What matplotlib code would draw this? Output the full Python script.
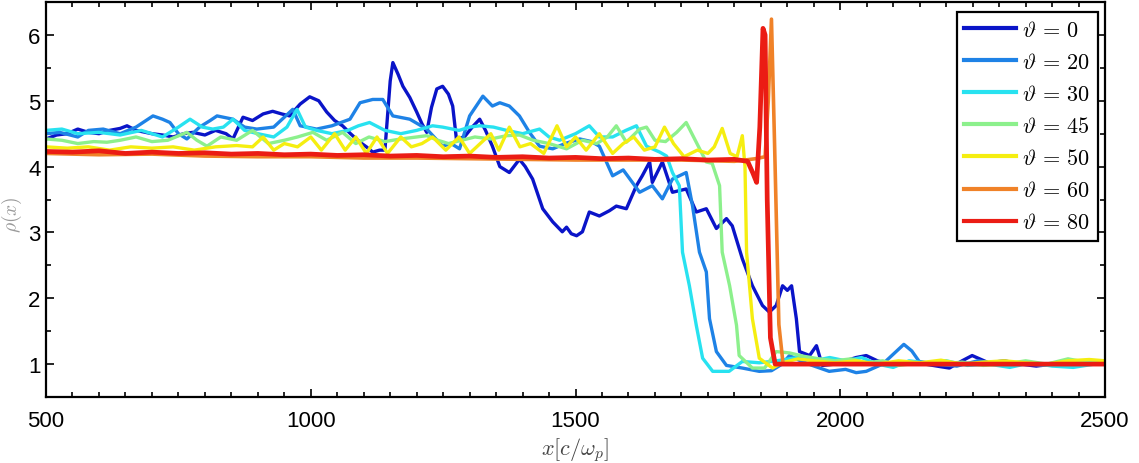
import numpy as np
import matplotlib
matplotlib.use('Agg')
from matplotlib import pyplot as plt
from matplotlib.ticker import MultipleLocator

plt.rcParams['font.family'] = ['Liberation Sans', 'DejaVu Sans']
plt.rcParams['mathtext.fontset'] = 'cm'

angles = [0, 20, 30, 45, 50, 60, 80]
colors = ['#0a14c8', '#1e82e6', '#28e2f0', '#8cf08c', '#f5ee10', '#f08228', '#eb1c14']

# density profiles, one per angle
x0 = [500, 520, 540, 560, 580, 600, 620, 640, 653, 670, 700, 720, 740, 760, 777, 800, 820, 840, 853,
      872, 890, 910, 928, 945, 960, 980, 998, 1015, 1030, 1045, 1060, 1075, 1093, 1105, 1117, 1130,
      1140, 1150, 1155, 1165, 1174, 1187, 1200, 1210, 1219, 1228, 1238, 1249, 1260, 1268, 1275, 1290,
      1305, 1319, 1330, 1343, 1357, 1375, 1394, 1405, 1419, 1438, 1457, 1475, 1483, 1492, 1502, 1513,
      1526, 1545, 1564, 1577, 1596, 1615, 1626, 1640, 1645, 1664, 1683, 1709, 1728, 1747, 1766, 1785,
      1796, 1815, 1834, 1853, 1866, 1879, 1891, 1900, 1908, 1917, 1923, 1942, 1955, 1966, 1990, 2010,
      2030, 2049, 2070, 2100, 2130, 2160, 2190, 2206, 2230, 2249, 2280, 2310, 2340, 2370, 2400, 2430,
      2460, 2500]
y0 = [4.42, 4.48, 4.5, 4.57, 4.52, 4.5, 4.55, 4.58, 4.62, 4.55, 4.5, 4.48, 4.45, 4.5, 4.52, 4.48,
      4.55, 4.5, 4.42, 4.75, 4.7, 4.8, 4.84, 4.8, 4.77, 4.95, 5.06, 5.0, 4.83, 4.7, 4.62, 4.5, 4.37,
      4.3, 4.22, 4.25, 4.25, 5.3, 5.58, 5.4, 5.22, 5.05, 4.83, 4.65, 4.52, 4.9, 5.18, 5.22, 5.1, 4.92,
      4.42, 4.45, 4.6, 4.72, 4.55, 4.31, 4.0, 3.91, 4.11, 4.0, 3.81, 3.36, 3.16, 3.01, 3.08, 2.98,
      2.95, 3.01, 3.31, 3.25, 3.33, 3.4, 3.36, 3.71, 3.86, 4.07, 3.76, 4.07, 3.61, 3.66, 3.31, 3.36,
      3.06, 3.21, 3.1, 2.6, 2.19, 1.89, 1.79, 1.89, 2.19, 2.12, 2.19, 1.69, 1.19, 1.13, 1.28, 0.98,
      1.0, 1.05, 1.1, 1.13, 1.05, 0.98, 1.02, 1.0, 0.96, 0.94, 1.05, 1.13, 1.02, 1.05, 1.0, 0.97,
      1.0, 1.0, 1.02, 1.0]

x20 = [500, 526, 560, 580, 608, 640, 670, 702, 720, 734, 750, 766, 790, 810, 823, 853, 875, 898,
       930, 950, 966, 980, 1011, 1040, 1074, 1093, 1117, 1136, 1155, 1187, 1219, 1249, 1265, 1281,
       1300, 1325, 1343, 1357, 1375, 1394, 1413, 1432, 1457, 1480, 1508, 1530, 1545, 1570, 1590,
       1621, 1645, 1664, 1683, 1709, 1721, 1734, 1747, 1753, 1766, 1785, 1815, 1847, 1870, 1890,
       1904, 1925, 1947, 1979, 2010, 2030, 2049, 2080, 2100, 2120, 2135, 2149, 2180, 2220, 2260,
       2300, 2340, 2380, 2420, 2460, 2500]
y20 = [4.5, 4.52, 4.45, 4.55, 4.57, 4.5, 4.6, 4.77, 4.72, 4.67, 4.5, 4.42, 4.6, 4.7, 4.77, 4.72,
       4.6, 4.57, 4.6, 4.75, 4.87, 4.62, 4.57, 4.62, 4.72, 4.97, 5.02, 5.02, 4.77, 4.72, 4.57, 4.31,
       4.35, 4.27, 4.77, 5.07, 4.92, 4.97, 4.92, 4.77, 4.52, 4.31, 4.27, 4.35, 4.42, 4.38, 4.31, 3.86,
       3.95, 3.61, 3.71, 3.51, 3.81, 3.91, 3.4, 2.7, 2.4, 1.69, 1.19, 0.98, 0.94, 0.89, 0.9, 1.0,
       1.13, 1.05, 0.98, 0.89, 0.92, 0.87, 0.89, 1.0, 1.15, 1.3, 1.2, 1.04, 1.0, 0.97, 1.05, 1.0,
       1.02, 0.98, 1.0, 1.02, 1.0]

x30 = [500, 530, 560, 600, 640, 680, 720, 750, 772, 795, 815, 835, 853, 875, 900, 930, 955, 974,
       990, 1011, 1040, 1070, 1090, 1111, 1140, 1170, 1200, 1230, 1249, 1280, 1300, 1319, 1345, 1370,
       1400, 1432, 1450, 1470, 1500, 1526, 1545, 1570, 1595, 1615, 1634, 1659, 1672, 1683, 1696,
       1702, 1715, 1728, 1740, 1759, 1790, 1815, 1847, 1880, 1920, 1950, 1980, 2010, 2040, 2070,
       2100, 2130, 2160, 2200, 2240, 2280, 2320, 2360, 2400, 2440, 2480, 2500]
y30 = [4.55, 4.57, 4.5, 4.52, 4.48, 4.55, 4.45, 4.6, 4.72, 4.6, 4.57, 4.6, 4.72, 4.55, 4.5, 4.45,
       4.6, 4.87, 4.6, 4.55, 4.5, 4.55, 4.62, 4.67, 4.55, 4.5, 4.55, 4.62, 4.6, 4.55, 4.6, 4.62, 4.6,
       4.55, 4.5, 4.57, 4.45, 4.4, 4.5, 4.62, 4.45, 4.45, 4.55, 4.62, 4.31, 4.22, 4.16, 3.91, 3.71,
       2.7, 2.19, 1.59, 1.09, 0.89, 0.89, 1.04, 1.02, 1.05, 1.1, 1.05, 1.1, 1.05, 1.1, 1.0, 0.95,
       1.05, 1.02, 1.05, 0.98, 1.0, 0.95, 1.02, 0.97, 0.95, 1.0, 1.0]

x45 = [500, 530, 560, 590, 615, 640, 670, 700, 730, 766, 785, 804, 830, 860, 890, 920, 950, 975,
       1004, 1030, 1060, 1085, 1110, 1140, 1170, 1200, 1219, 1240, 1260, 1285, 1310, 1340, 1370,
       1394, 1420, 1450, 1483, 1513, 1540, 1560, 1577, 1596, 1621, 1634, 1650, 1670, 1691, 1709,
       1728, 1747, 1758, 1772, 1777, 1791, 1804, 1809, 1834, 1857, 1879, 1904, 1930, 1960, 1990,
       2020, 2050, 2080, 2110, 2150, 2190, 2230, 2270, 2310, 2350, 2390, 2430, 2470, 2500]
y45 = [4.42, 4.4, 4.35, 4.38, 4.37, 4.4, 4.45, 4.38, 4.4, 4.52, 4.4, 4.31, 4.45, 4.4, 4.55, 4.35,
       4.4, 4.45, 4.52, 4.4, 4.52, 4.35, 4.45, 4.38, 4.42, 4.45, 4.47, 4.4, 4.35, 4.4, 4.45, 4.42,
       4.47, 4.48, 4.4, 4.35, 4.27, 4.4, 4.35, 4.45, 4.62, 4.37, 4.57, 4.6, 4.4, 4.38, 4.52, 4.67,
       4.37, 4.07, 4.05, 3.71, 2.7, 2.19, 1.59, 1.13, 0.94, 0.94, 1.19, 1.17, 1.12, 1.08, 1.05, 1.08,
       1.02, 1.05, 0.98, 1.02, 1.0, 1.03, 0.98, 1.0, 1.05, 1.0, 1.08, 1.02, 1.05]

x50 = [500, 540, 580, 620, 660, 700, 740, 780, 820, 860, 890, 910, 930, 950, 975, 1000, 1020, 1045,
       1065, 1085, 1105, 1125, 1145, 1170, 1190, 1210, 1230, 1255, 1280, 1300, 1320, 1340, 1355,
       1375, 1395, 1415, 1440, 1465, 1483, 1500, 1520, 1545, 1570, 1590, 1610, 1630, 1650, 1668,
       1685, 1705, 1730, 1750, 1762, 1777, 1792, 1805, 1815, 1820, 1823, 1834, 1847, 1872, 1890,
       1920, 1950, 1990, 2030, 2070, 2110, 2150, 2190, 2230, 2270, 2310, 2350, 2390, 2430, 2470, 2500]
y50 = [4.3, 4.28, 4.3, 4.25, 4.3, 4.28, 4.3, 4.25, 4.3, 4.32, 4.3, 4.45, 4.25, 4.35, 4.3, 4.45,
       4.25, 4.5, 4.25, 4.45, 4.2, 4.45, 4.2, 4.45, 4.3, 4.35, 4.45, 4.25, 4.45, 4.2, 4.35, 4.5, 4.25,
       4.6, 4.3, 4.35, 4.2, 4.62, 4.3, 4.45, 4.25, 4.5, 4.2, 4.35, 4.45, 4.25, 4.3, 4.6, 4.35, 4.15,
       4.25, 4.2, 4.3, 4.58, 4.2, 4.15, 4.47, 4.0, 2.7, 1.69, 1.09, 0.94, 1.02, 1.08, 1.05, 1.02,
       1.05, 1.0, 1.05, 1.02, 1.06, 1.0, 1.03, 1.05, 1.02, 1.0, 1.05, 1.07, 1.05]

x60 = [500, 600, 700, 800, 900, 1000, 1100, 1200, 1300, 1400, 1500, 1600, 1700, 1800, 1840, 1858,
       1864, 1870, 1876, 1884, 1892, 2000, 2500]
y60 = [4.2, 4.18, 4.19, 4.16, 4.15, 4.15, 4.13, 4.13, 4.12, 4.11, 4.1, 4.1, 4.1, 4.08, 4.12, 4.15,
       5.0, 6.24, 4.3, 1.6, 1.0, 1.0, 1.0]

x80 = [500, 550, 600, 650, 700, 750, 800, 850, 900, 950, 1000, 1050, 1100, 1150, 1200, 1250, 1300,
       1350, 1400, 1450, 1500, 1550, 1600, 1650, 1700, 1750, 1800, 1825, 1835, 1842, 1848, 1854,
       1858, 1862, 1868, 1877, 2000, 2500]
y80 = [4.23, 4.22, 4.24, 4.2, 4.22, 4.2, 4.21, 4.19, 4.2, 4.18, 4.19, 4.17, 4.18, 4.16, 4.17, 4.15,
       4.16, 4.14, 4.15, 4.13, 4.14, 4.12, 4.13, 4.11, 4.12, 4.1, 4.11, 4.08, 3.9, 3.76, 4.6, 6.1,
       6.0, 3.5, 1.4, 1.0, 1.0, 1.0]

xs = [x0, x20, x30, x45, x50, x60, x80]
ys = [y0, y20, y30, y45, y50, y60, y80]
widths = [2.4, 2.4, 2.4, 2.4, 2.4, 2.6, 3.4]

fig = plt.figure(figsize=(11.39, 4.64), dpi=100)
ax = fig.add_axes([0.0404, 0.1422, 0.9298, 0.8513])

for a, c, x, y, w in zip(angles, colors, xs, ys, widths):
    ax.plot(x, y, color=c, lw=w, label=r'$\vartheta\,=\,%d$' % a)

ax.set_xlim(500, 2500)
ax.set_ylim(0.5, 6.5)
ax.xaxis.set_major_locator(MultipleLocator(500))
ax.xaxis.set_minor_locator(MultipleLocator(50))
ax.yaxis.set_major_locator(MultipleLocator(1))
ax.yaxis.set_minor_locator(MultipleLocator(0.5))
ax.tick_params(which='both', direction='in', top=True, right=True, width=1.2, labelsize=16)
ax.tick_params(which='major', length=6)
ax.tick_params(which='minor', length=3.5)
ax.tick_params(axis='x', pad=9)
ax.tick_params(axis='y', pad=4)
for s in ax.spines.values():
    s.set_linewidth(1.6)

ax.set_xlabel(r'$x[c/\omega_p]$', fontsize=16, color='#444444', labelpad=3)
ax.set_ylabel(r'$\rho(x)$', fontsize=14, color='#999999')
ax.yaxis.set_label_coords(-0.021, 0.463)

leg = ax.legend(loc='upper right', bbox_to_anchor=(0.9934, 0.9747), borderaxespad=0,
                fontsize=16, fancybox=False, framealpha=1, edgecolor='black',
                handlelength=2.3, handletextpad=0.3, labelspacing=0.5, borderpad=0.35)
leg.get_frame().set_linewidth(1.6)
for line in leg.get_lines():
    line.set_linewidth(3)

plt.savefig('out.png', dpi=100)
